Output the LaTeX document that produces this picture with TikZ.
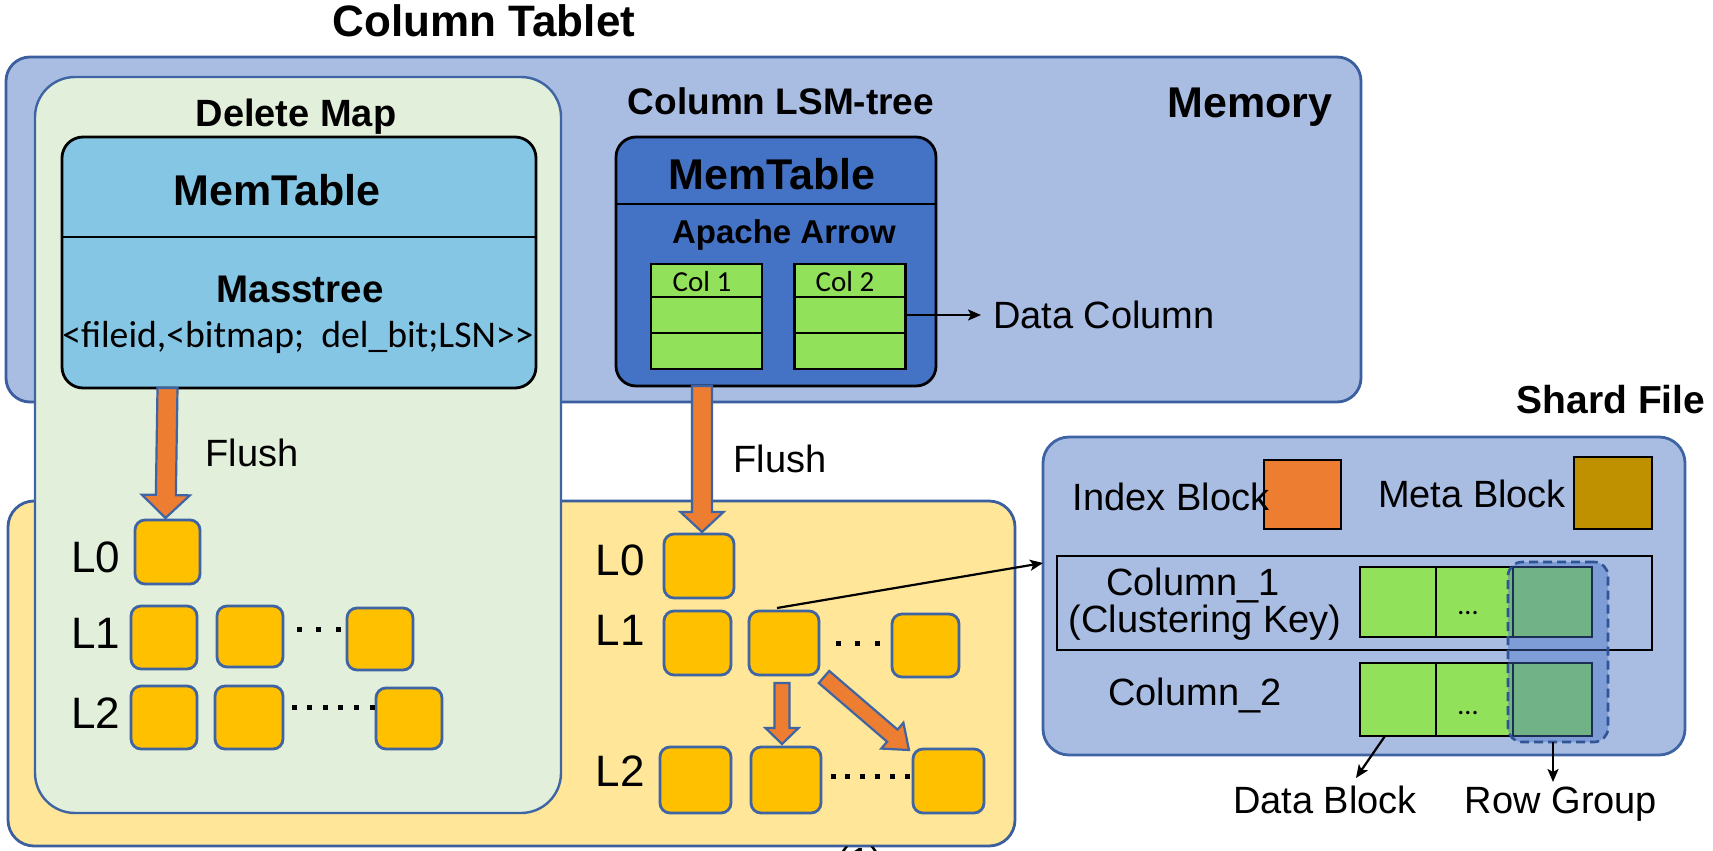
\documentclass[tikz,border=0pt]{standalone}
\usepackage{fontspec}
\setmainfont{Liberation Sans}
\newfontfamily\calfont{Carlito}
\usetikzlibrary{arrows.meta,calc}
\newcommand\myfs[1]{\fontsize{#1}{#1}\selectfont}
\definecolor{membg}{HTML}{A9BCE2}
\definecolor{memln}{HTML}{3A5E9E}
\definecolor{dmbg}{HTML}{E2EFDA}
\definecolor{yelbg}{HTML}{FFE699}
\definecolor{skyb}{HTML}{85C6E5}
\definecolor{accb}{HTML}{4472C4}
\definecolor{lgreen}{HTML}{92E15B}
\definecolor{gold}{HTML}{FFC000}
\definecolor{oran}{HTML}{ED7D31}
\definecolor{brownm}{HTML}{BF9000}
\definecolor{bline}{HTML}{3E64A4}
\definecolor{dashb}{HTML}{2F5597}
\newcommand\blockarrow[5]{%
  \path (#1) coordinate (ba-s) (#2) coordinate (ba-e);
  \path ($(ba-e)!#5!(ba-s)$) coordinate (ba-h);
  \draw[barrow] ($(ba-s)!#3!90:(ba-e)$) -- ($(ba-h)!#3!-90:(ba-s)$) -- ($(ba-h)!#4!-90:(ba-s)$) -- (ba-e) -- ($(ba-h)!#4!90:(ba-s)$) -- ($(ba-h)!#3!90:(ba-s)$) -- ($(ba-s)!#3!-90:(ba-e)$) -- cycle;}
\begin{document}
\begin{tikzpicture}[x=1pt,y=-1pt,
  every node/.style={inner sep=0pt,outer sep=0pt},
  region/.style={draw=memln,line width=2.8pt},
  mtbox/.style={draw=black,line width=2.8pt,rounded corners=21pt},
  lbox/.style={draw=bline,line width=2.8pt,fill=gold,rounded corners=10pt},
  cell/.style={draw=black,line width=2.6pt,fill=lgreen},
  barrow/.style={draw=bline,line width=2.2pt,fill=oran,line join=miter},
  arr/.style={draw=black,line width=2.2pt,-{Stealth[length=13pt,width=11pt,inset=3pt]}},
  ttl/.style={anchor=base,font=\bfseries\myfs{#1}},
  txt/.style={anchor=base,font=\myfs{#1}},
  ctxt/.style={anchor=base,font=\calfont\myfs{#1}},
  dotsq/.style={fill=black}]
\useasboundingbox (0,0) rectangle (1713,851);
\clip (0,0) rectangle (1713,851);

% big regions
\node[region,fill=membg,rounded corners=24pt,minimum width=1355pt,minimum height=345pt] (mem) at (683.5,229.5) {};
\node[region,fill=yelbg,rounded corners=26pt,minimum width=1007pt,minimum height=345pt] (yel) at (511.5,673.5) {};
\node[region,draw=bline,line width=2.4pt,fill=dmbg,rounded corners=40pt,minimum width=526pt,minimum height=736pt] (dm) at (298,445) {};
\node[region,draw=bline,fill=membg,rounded corners=26pt,minimum width=642pt,minimum height=318pt] (shard) at (1364,596) {};

% titles
\node[ttl=44] (tct) at (484,37) {Column Tablet};
\node[ttl=43] (tmem) at (1250,117) {Memory};
\node[ttl=37] (tlsm) at (781,114) {Column LSM-tree};
\node[ttl=38] (tdm) at (296,126) {Delete Map};
\node[ttl=39] (tsf) at (1611,413) {Shard File};

% Delete map memtable
\node[mtbox,fill=skyb,minimum width=474pt,minimum height=251pt] (dmt) at (299,262.5) {};
\draw[black,line width=2.6pt] (dmt.west |- 0,237) -- (dmt.east |- 0,237);
\node[ttl=43] (dmtt) at (277,205) {MemTable};
\node[ttl=38.5] (mass) at (300,302) {Masstree};
\node[ctxt=37.7] (fid) at (298,347) {<fileid,<bitmap; \ del\_bit;LSN>\kern0pt>};

% Column LSM memtable
\node[mtbox,fill=accb,rounded corners=20pt,minimum width=320pt,minimum height=249pt] (cmt) at (776,261.5) {};
\draw[black,line width=2.6pt] (cmt.west |- 0,204) -- (cmt.east |- 0,204);
\node[ttl=43] (cmtt) at (772,189) {MemTable};
\node[ttl=33] (apa) at (784,243) {Apache Arrow};
\foreach \n/\cx in {1/706.5,2/850}{
  \node[cell,minimum width=111pt,minimum height=33pt] (c\n r1) at (\cx,280.5) {};
  \node[cell,minimum width=111pt,minimum height=36pt] (c\n r2) at (\cx,315) {};
  \node[cell,minimum width=111pt,minimum height=36pt] (c\n r3) at (\cx,351) {};
}
\node[ctxt=29] (col1t) at (702,291) {Col 1};
\node[ctxt=29] (col2t) at (845,291) {Col 2};
\node[txt=38,anchor=base west] (dct) at (993,328) {Data Column};
\coordinate (dcend) at ($(dct.west |- c2r2.east)+(-12,0)$);
\draw[arr] (c2r2.east) -- (dcend);

% Flush labels
\node[txt=38] (fl1) at (252,466) {Flush};
\node[txt=38] (fl2) at (780,472) {Flush};

% left LSM levels
\node[txt=44] (ll0) at (96,572) {L0};
\node[txt=44] (ll1) at (96,648) {L1};
\node[txt=44] (ll2) at (96,728) {L2};
\node[lbox,minimum width=65pt,minimum height=64pt] (l0) at (167.5,552) {};
\node[lbox,minimum width=66pt,minimum height=63pt] (l1a) at (164,637.5) {};
\node[lbox,minimum width=66pt,minimum height=61pt] (l1b) at (250,636.5) {};
\node[lbox,minimum width=66pt,minimum height=62pt] (l1c) at (380,639) {};
\node[lbox,minimum width=66pt,minimum height=63pt] (l2a) at (164,717.5) {};
\node[lbox,minimum width=68pt,minimum height=63pt] (l2b) at (249,717.5) {};
\node[lbox,minimum width=66pt,minimum height=61pt] (l2c) at (409,718.5) {};
\foreach \x in {299,318.5,338} \fill (\x-2.5,626.5) rectangle ++(5,5);
\foreach \i in {0,...,5} \fill (294+15.6*\i-2.5,704.5) rectangle ++(5,5);

% right LSM levels
\node[txt=44] (rl0) at (620,575) {L0};
\node[txt=44] (rl1) at (620,645) {L1};
\node[txt=44] (rl2) at (620,786) {L2};
\node[lbox,minimum width=70pt,minimum height=64pt] (r0) at (699,566) {};
\node[lbox,minimum width=67pt,minimum height=64pt] (r1a) at (697.5,643) {};
\node[lbox,minimum width=70pt,minimum height=64pt] (r1b) at (784,643) {};
\node[lbox,minimum width=67pt,minimum height=63pt] (r1c) at (925.5,645.5) {};
\node[lbox,minimum width=71pt,minimum height=66pt] (r2a) at (695.5,780) {};
\node[lbox,minimum width=70pt,minimum height=66pt] (r2b) at (786,780) {};
\node[lbox,minimum width=71pt,minimum height=64pt] (r2c) at (948.5,781) {};
\foreach \x in {838,857.5,877} \fill (\x-2.5,640.5) rectangle ++(5,5);
\foreach \i in {0,...,5} \fill (833+14.8*\i-2.5,773.5) rectangle ++(5,5);

% orange block arrows
\blockarrow{l0.north |- dmt.south}{$(l0.north)+(-2,-2)$}{10pt}{24pt}{23pt}
\blockarrow{$(r0.north |- cmt.south)+(3,0)$}{$(r0.north)+(3,-2)$}{10pt}{21.5pt}{20pt}
\coordinate (sa) at ($(r1b.south)+(-2,8)$);
\coordinate (sb) at ($(sa |- r2b.north)+(0,-3)$);
\blockarrow{sa}{sb}{7.5pt}{16.5pt}{16pt}
\blockarrow{$(r1b.south east)+(5,2)$}{$(r2c.north west)+(-4,1)$}{8pt}{17pt}{22pt}

% shard file contents
\node[draw=black,line width=2.6pt,fill=oran,minimum width=77pt,minimum height=69pt] (idx) at (1302.5,494.5) {};
\node[draw=black,line width=2.6pt,fill=brownm,minimum width=78pt,minimum height=72pt] (meta) at (1613,493) {};
\node[txt=38] (idxt) at (1171,510) {Index Block};
\node[txt=38] (metat) at (1472,507) {Meta Block};
\node[draw=black,line width=2.6pt,minimum width=595pt,minimum height=94pt] (c1rect) at (1354.5,603) {};
\node[txt=38] (c1t) at (1193,595) {Column\_1};
\node[txt=38] (c1k) at (1205,632) {(Clustering Key)};
\node[txt=38] (c2t) at (1195,705) {Column\_2};
\node[cell,minimum width=76pt,minimum height=70pt] (s11) at (1398,602) {};
\node[cell,minimum width=77pt,minimum height=70pt] (s12) at (1474.5,602) {};
\node[cell,minimum width=79pt,minimum height=70pt] (s13) at (1552.5,602) {};
\node[cell,minimum width=76pt,minimum height=73pt] (s21) at (1398,699.5) {};
\node[cell,minimum width=77pt,minimum height=73pt] (s22) at (1474.5,699.5) {};
\node[cell,minimum width=79pt,minimum height=73pt] (s23) at (1552.5,699.5) {};
\node[ctxt=28] (d1) at (1468,614) {...};
\node[ctxt=28] (d2) at (1468,714) {...};
\node[draw=dashb,line width=2.6pt,dash pattern=on 9pt off 5pt,fill=accb,fill opacity=0.42,rounded corners=14pt,minimum width=100pt,minimum height=180pt] (rg) at (1558,652) {};

% labels under shard
\node[txt=38] (dbt) at (1325,813) {Data Block};
\node[txt=38] (rgt) at (1561,813) {Row Group};
\coordinate (dbtip) at (1356,778);
\coordinate (rgtip) at (1553,782);
\draw[arr] ($(s21.south west)+(25,0)$) -- (dbtip);
\draw[arr] (rg.south -| rgtip) -- (rgtip);

% link from L1 block to shard file
\coordinate (lk) at ($(r1b.north)+(-7,-3)$);
\draw[arr] (lk) -- (shard.west |- 0,563);

% partially visible caption
\node[txt=38] (cap) at (860,874) {(1)};
\end{tikzpicture}
\end{document}
